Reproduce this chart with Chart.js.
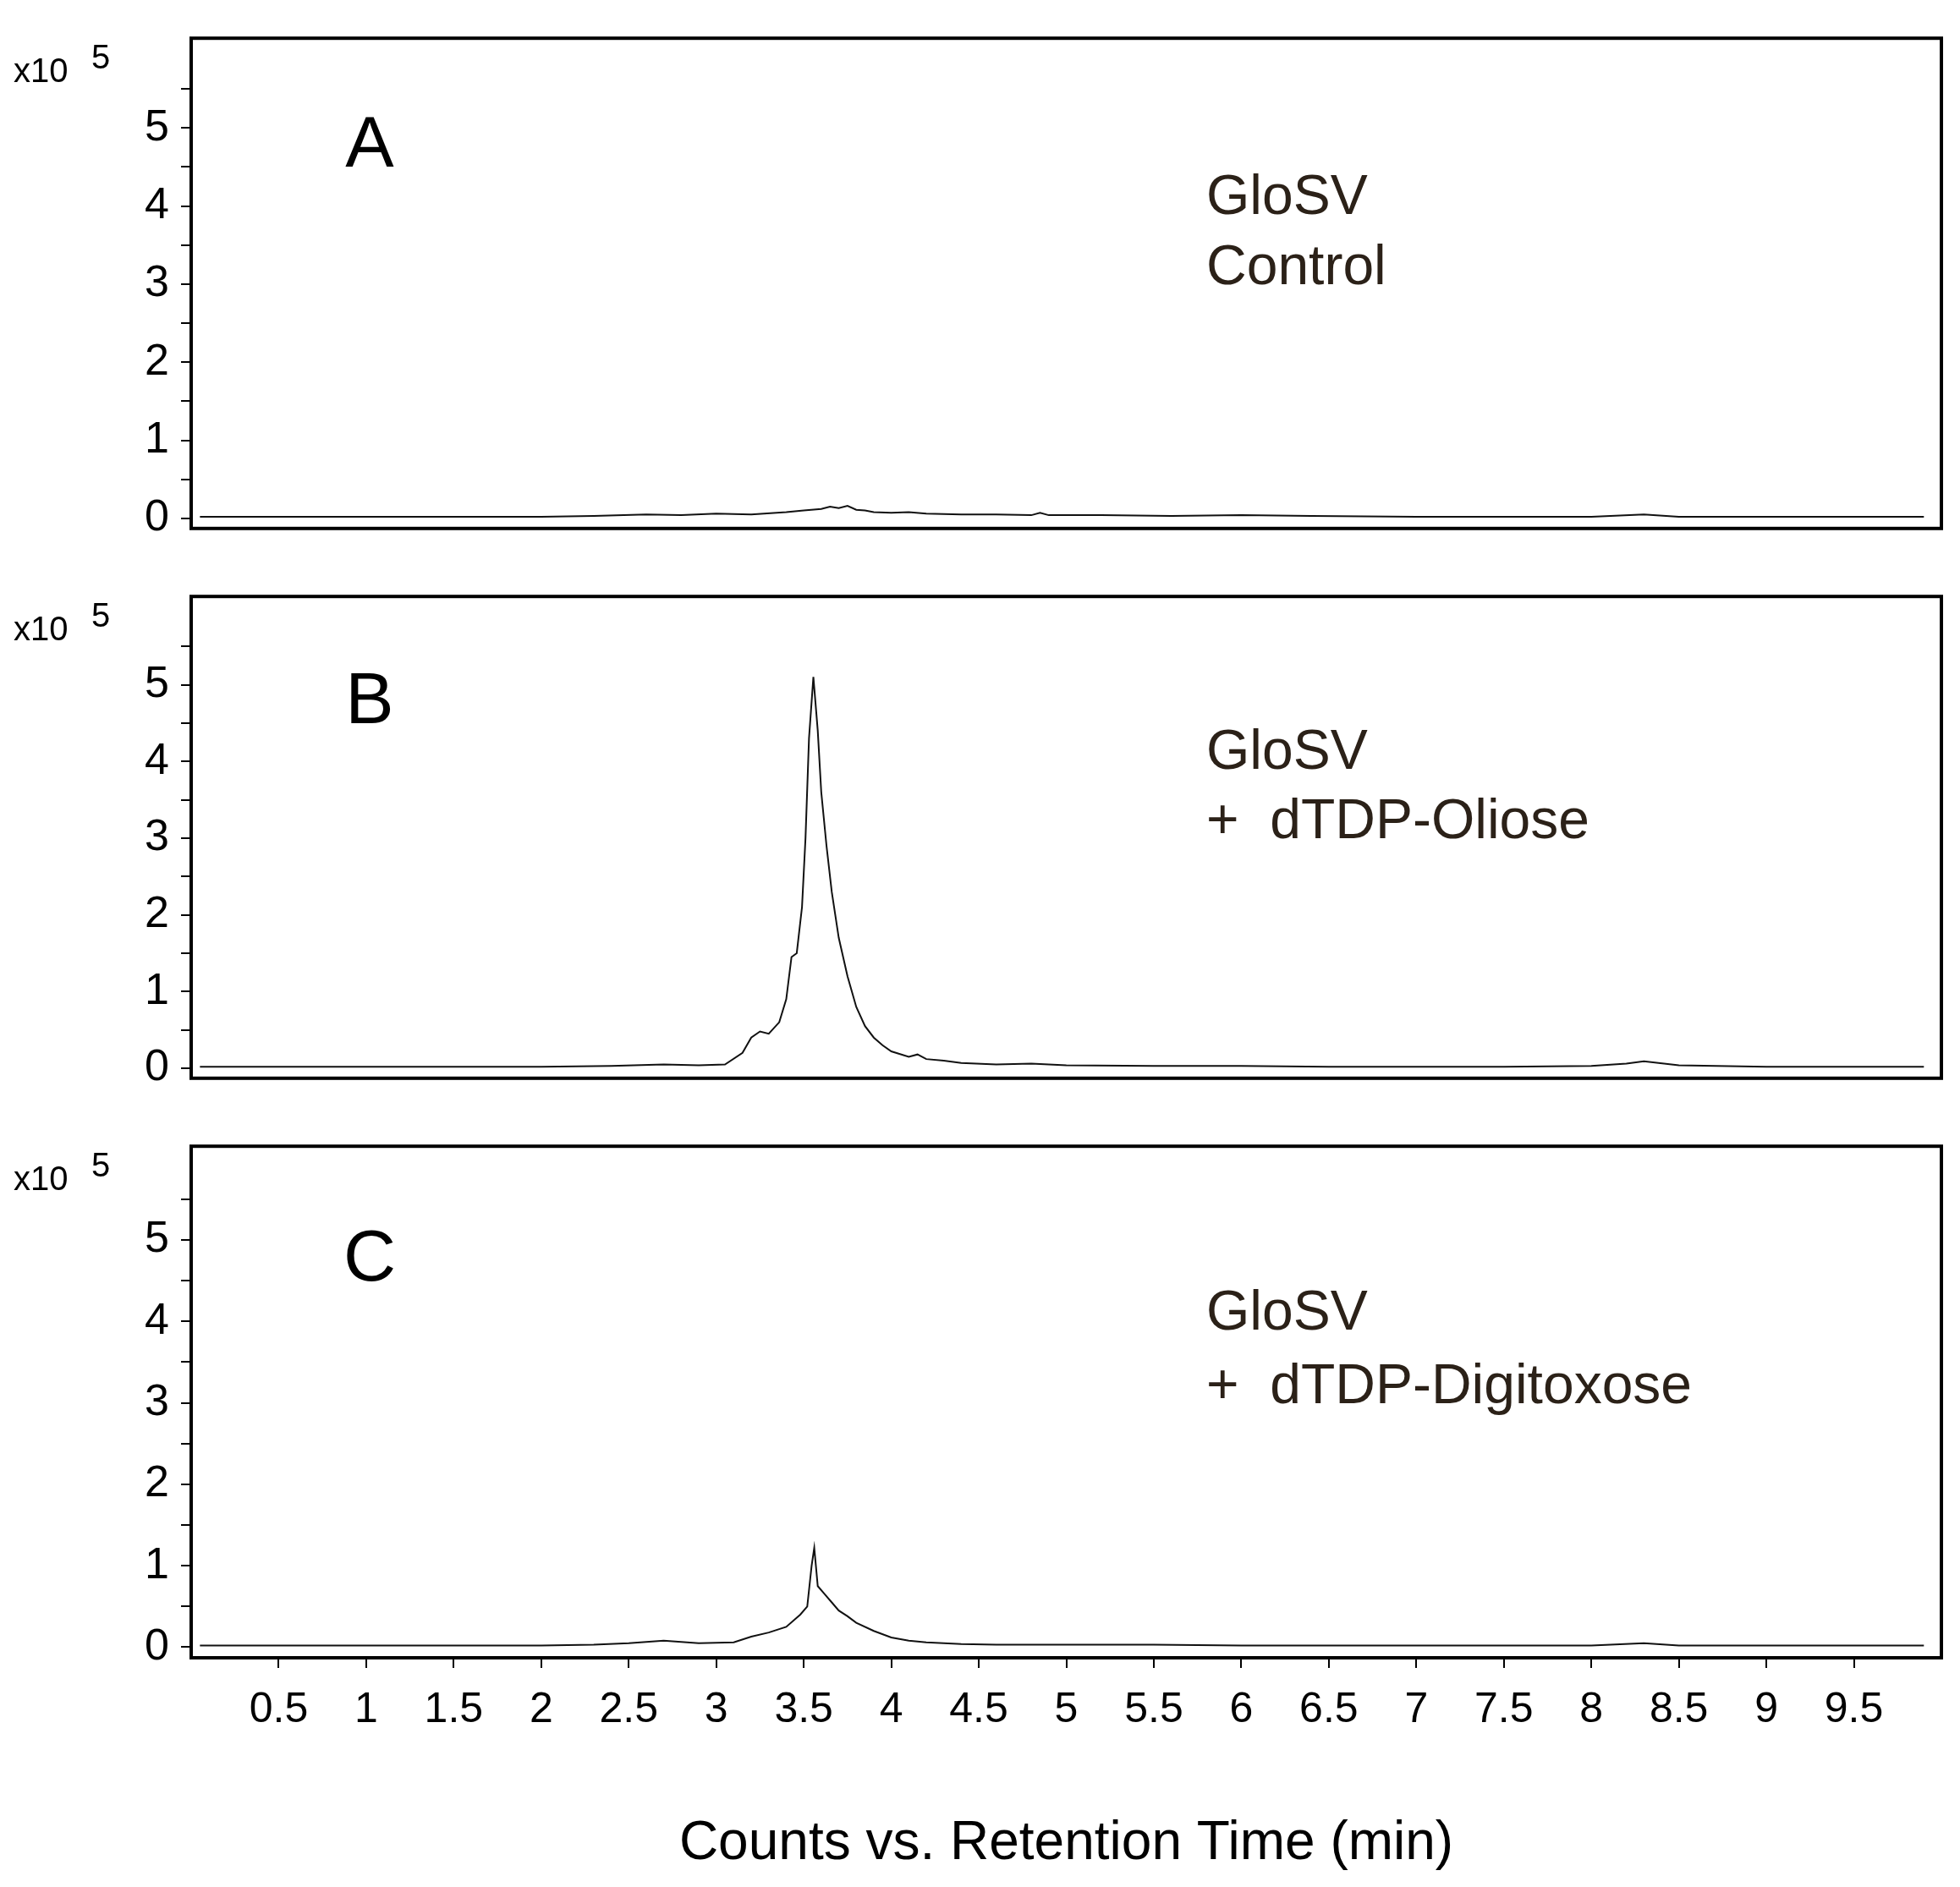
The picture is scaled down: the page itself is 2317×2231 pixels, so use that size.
<!DOCTYPE html>
<html><head><meta charset="utf-8">
<script src="https://cdn.jsdelivr.net/npm/chart.js@4/dist/chart.umd.min.js"></script>
<style>body{margin:0;background:#fff;width:2317px;height:2231px;position:relative;overflow:hidden}
.p{position:absolute;left:0;width:2317px}</style></head><body>
<div class="p" style="top:0;height:670px"><canvas id="cA"></canvas></div>
<div class="p" style="top:660px;height:660px"><canvas id="cB"></canvas></div>
<div class="p" style="top:1310px;height:921px"><canvas id="cC"></canvas></div>
<script>
const xTicks=[0.5,1,1.5,2,2.5,3,3.5,4,4.5,5,5.5,6,6.5,7,7.5,8,8.5,9,9.5];
const yTicks=[0,1,2,3,4,5];
const timeA=[0.05,0.5,1,1.5,2,2.3,2.6,2.8,3,3.2,3.4,3.5,3.6,3.65,3.7,3.75,3.8,3.85,3.9,4,4.1,4.2,4.4,4.6,4.8,4.85,4.9,5.2,5.6,6,6.4,7,7.5,8,8.3,8.5,9,9.5,9.9];
const countsA=[0.02,0.02,0.02,0.02,0.02,0.03,0.05,0.04,0.06,0.05,0.08,0.1,0.12,0.15,0.13,0.16,0.11,0.1,0.08,0.07,0.08,0.06,0.05,0.05,0.04,0.07,0.04,0.04,0.03,0.04,0.03,0.02,0.02,0.02,0.05,0.02,0.02,0.02,0.02];
const timeB=[0.05,0.5,1,1.5,2,2.4,2.7,2.9,3.05,3.15,3.2,3.25,3.3,3.36,3.4,3.43,3.46,3.49,3.51,3.53,3.555,3.58,3.6,3.63,3.66,3.7,3.75,3.8,3.85,3.9,3.95,4,4.1,4.15,4.2,4.3,4.4,4.6,4.8,5,5.5,6,6.5,7,7.5,8,8.2,8.3,8.5,9,9.5,9.9];
const countsB=[0.02,0.02,0.02,0.02,0.02,0.03,0.05,0.04,0.05,0.2,0.4,0.48,0.45,0.6,0.9,1.45,1.5,2.1,3.0,4.3,5.1,4.4,3.6,2.9,2.3,1.7,1.2,0.8,0.55,0.4,0.3,0.22,0.15,0.18,0.12,0.1,0.07,0.05,0.06,0.04,0.03,0.03,0.02,0.02,0.02,0.03,0.06,0.09,0.04,0.02,0.02,0.02];
const timeC=[0.05,0.5,1,1.5,2,2.3,2.5,2.7,2.9,3.1,3.2,3.3,3.4,3.48,3.52,3.545,3.56,3.58,3.62,3.66,3.7,3.75,3.8,3.9,4,4.1,4.2,4.4,4.6,5,5.5,6,6.5,7,7.5,8,8.3,8.5,9,9.5,9.9];
const countsC=[0.02,0.02,0.02,0.02,0.02,0.03,0.05,0.08,0.05,0.06,0.13,0.18,0.25,0.4,0.5,1.0,1.22,0.75,0.65,0.55,0.45,0.38,0.3,0.2,0.12,0.08,0.06,0.04,0.03,0.03,0.03,0.02,0.02,0.02,0.02,0.02,0.05,0.02,0.02,0.02,0.02];
const FONT='"Liberation Sans", Arial, sans-serif';
const TXT='#2b2118';
function mk(id,xs,ys,letter,l1,l2,pad,bottom){
  const deco={id:'deco'+id,afterDraw(c){const a=c.chartArea,g=c.ctx;g.save();
    g.strokeStyle='#000';g.lineWidth=4;g.strokeRect(a.left,a.top,a.right-a.left,a.bottom-a.top);
    g.fillStyle='#000';g.textBaseline='alphabetic';
    g.font='40px '+FONT;g.fillText('x10',16,a.top+52);g.font='40px '+FONT;g.fillText('5',108,a.top+36);
    const xs=c.scales.x,ys=c.scales.y;
    g.font='86px '+FONT;g.textAlign='center';g.fillText(letter,xs.getPixelForValue(1.02),ys.getPixelForValue(4.5));
    g.fillStyle=TXT;g.textAlign='left';g.font='66px '+FONT;
    g.fillText(l1,xs.getPixelForValue(5.8),ys.getPixelForValue(3.9));
    g.fillText(l2,xs.getPixelForValue(5.8),ys.getPixelForValue(3.0));
    g.restore();}};
  new Chart(document.getElementById(id),{type:'line',
    data:{datasets:[{data:xs.map((x,i)=>({x:x,y:ys[i]})),borderColor:'#111',borderWidth:2,pointRadius:0,tension:0}]},
    options:{responsive:true,maintainAspectRatio:false,animation:false,
      plugins:{legend:{display:false},tooltip:{enabled:false}},
      layout:{padding:pad},
      scales:{
        x:{type:'linear',min:0,max:10,display:bottom,
          afterBuildTicks(s){s.ticks=xTicks.map(v=>({value:v}));},
          afterFit(s){if(bottom)s.height=271;},
          grid:{drawOnChartArea:false,tickLength:12,color:'#000',lineWidth:2},border:{display:false},
          ticks:{font:{size:50,family:FONT},color:'#000',padding:20,maxRotation:0,autoSkip:false,callback:v=>String(v)},
          title:{display:true,text:'Counts vs. Retention Time (min)',font:{size:64,family:FONT},color:'#000',padding:{top:60,bottom:12}}},
        y:{min:-0.13,max:6.15,
          afterBuildTicks(s){const t=[];for(let v=0;v<=5.5001;v+=0.5)t.push({value:Math.round(v*2)/2});s.ticks=t;},
          afterFit(s){s.width=226;},
          grid:{drawOnChartArea:false,tickLength:12,color:'#000',lineWidth:2},border:{display:false},
          ticks:{font:{size:52,family:FONT},color:'#000',padding:14,autoSkip:false,
            callback:v=>Number.isInteger(v)?String(v):''}}}}
    ,plugins:[deco]});
}
mk('cA',timeA,countsA,'A','GloSV','Control',{top:21,bottom:9,right:22,left:0},false);
mk('cB',timeB,countsB,'B','GloSV','+  dTDP-Oliose',{top:10,bottom:10,right:22,left:0},false);
mk('cC',timeC,countsC,'C','GloSV','+  dTDP-Digitoxose',{top:10,bottom:0,right:22,left:0},true);
</script></body></html>
